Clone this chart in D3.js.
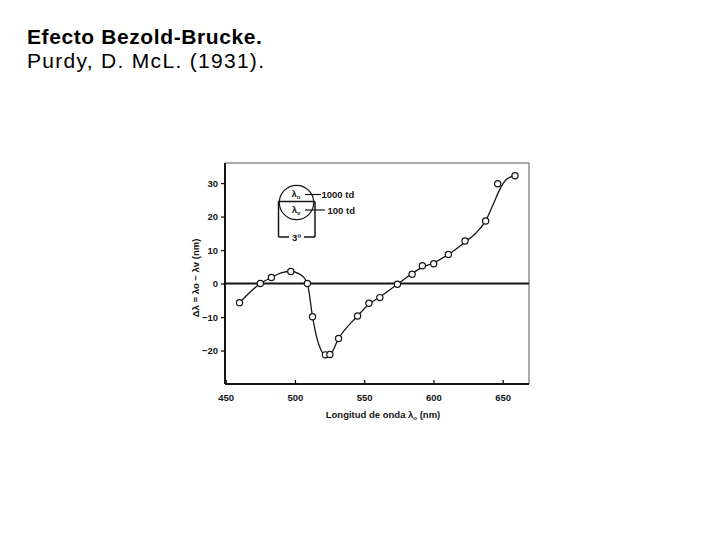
<!DOCTYPE html>
<html>
<head>
<meta charset="utf-8">
<script src="https://cdn.jsdelivr.net/npm/d3@7"></script>
<style>
  html, body { margin: 0; padding: 0; background: #fff; }
  svg { display: block; }
  text { font-family: "Liberation Sans", Arial, sans-serif; }
</style>
</head>
<body>
<svg id="chart" width="720" height="540"></svg>
<script>
// ---- data ----
const titleLines = ["Efecto Bezold-Brucke.", "Purdy, D. McL. (1931)."];
const xTicks = [450, 500, 550, 600, 650];
const yTicks = [-20, -10, 0, 10, 20, 30];
const lambda = [460, 475, 483, 497, 509, 512.7, 522, 525.2, 531.5, 545.2, 553.4, 561.3, 574, 584.6, 592, 600.2, 610.8, 622.8, 637.7, 646.4, 658.9];
const delta  = [-5.7, 0, 1.8, 3.6, 0, -9.9, -21.3, -21.2, -16.4, -9.7, -5.9, -4.2, -0.2, 2.8, 5.3, 5.9, 8.7, 12.7, 18.7, 29.8, 32.2];
// smooth curve traced through the measurements
const curveLambda = [460, 475, 483, 490, 497, 503, 507, 509.5, 512.7, 516, 519, 522, 525.2, 531.5, 545.2, 553.4, 561.3, 574, 584.6, 592, 600.2, 610.8, 622.8, 630, 637.7, 643, 648, 653, 658.9];
const curveDelta  = [-5.7, 0, 1.8, 3.2, 3.6, 2.9, 1.5, -1, -9.9, -16.5, -20, -21.3, -21.2, -16.4, -9.7, -6.2, -4, -0.2, 3.0, 4.9, 6.2, 8.7, 12.4, 14.8, 18.7, 23.5, 28.2, 31.2, 32.2];

const svg = d3.select("#chart");
const L = 225, R = 529, T = 163, B = 384;

const x = d3.scaleLinear().domain([450, 669]).range([225.7, 529]);
const y = d3.scaleLinear().domain([-30, 36]).range([B, T]);

// titles
svg.append("text").attr("x", 27).attr("y", 44)
  .attr("font-size", 21).attr("font-weight", "bold").attr("letter-spacing", 0.6).attr("fill", "#000").text(titleLines[0]);
svg.append("text").attr("x", 27).attr("y", 68)
  .attr("font-size", 21).attr("letter-spacing", 1.3).attr("fill", "#000").text(titleLines[1]);

const ink = "#151515";

// frame top/right
svg.append("line").attr("x1", L).attr("x2", R).attr("y1", T).attr("y2", T).attr("stroke", "#555").attr("stroke-width", 1);
svg.append("line").attr("x1", R).attr("x2", R).attr("y1", T).attr("y2", B).attr("stroke", "#555").attr("stroke-width", 1);

// axes
const xAxis = d3.axisBottom(x).tickValues(xTicks).tickSizeInner(-4).tickSizeOuter(0).tickPadding(10);
const gx = svg.append("g").attr("transform", `translate(0,${B})`).call(xAxis);
gx.select(".domain").attr("d", `M${L},0H${R}`).attr("stroke", ink).attr("stroke-width", 2);
gx.selectAll(".tick line").attr("stroke", ink).attr("stroke-width", 1.3);
gx.selectAll(".tick text").attr("font-size", 9.5).attr("font-weight", "bold").attr("fill", ink);

const yAxis = d3.axisLeft(y).tickValues(yTicks).tickSizeInner(4).tickSizeOuter(0).tickPadding(3)
  .tickFormat(d => d < 0 ? "\u2212" + Math.abs(d) : String(d));
const gy = svg.append("g").attr("transform", `translate(${L},0)`).call(yAxis);
gy.select(".domain").attr("d", `M0,${T}V${B}`).attr("stroke", ink).attr("stroke-width", 2);
gy.selectAll(".tick line").attr("stroke", ink).attr("stroke-width", 1.3);
gy.selectAll(".tick text").attr("font-size", 9.5).attr("font-weight", "bold").attr("fill", ink);

// zero line
svg.append("line").attr("x1", L).attr("x2", R).attr("y1", y(0)).attr("y2", y(0))
  .attr("stroke", ink).attr("stroke-width", 2);

// curve
const line = d3.line().x(d => x(d[0])).y(d => y(d[1])).curve(d3.curveMonotoneX);
svg.append("path").datum(curveLambda.map((v, i) => [v, curveDelta[i]]))
  .attr("d", line).attr("fill", "none").attr("stroke", ink).attr("stroke-width", 1.3);

// points
svg.append("g").selectAll("circle").data(lambda.map((v, i) => [v, delta[i]])).join("circle")
  .attr("cx", d => x(d[0])).attr("cy", d => y(d[1])).attr("r", 3.1)
  .attr("fill", "#fff").attr("stroke", ink).attr("stroke-width", 1.2);

// axis titles
const xl = svg.append("text").attr("x", 383).attr("y", 418).attr("text-anchor", "middle")
  .attr("font-size", 9.5).attr("font-weight", "bold").attr("fill", ink);
xl.append("tspan").text("Longitud de onda \u03bb");
xl.append("tspan").attr("font-size", 6).attr("dy", 2).text("o");
xl.append("tspan").attr("dy", -2).text(" (nm)");

svg.append("text").attr("transform", "translate(199,278) rotate(-90)").attr("text-anchor", "middle")
  .attr("font-size", 9.5).attr("font-weight", "bold").attr("fill", ink)
  .text("\u0394\u03bb = \u03bbo \u2212 \u03bbv (nm)");

// inset diagram
const ins = svg.append("g").attr("stroke", ink).attr("fill", "none").attr("stroke-width", 1.2);
ins.append("circle").attr("cx", 296.5).attr("cy", 202.5).attr("r", 17.2);
ins.append("line").attr("x1", 278).attr("x2", 315).attr("y1", 201.5).attr("y2", 201.5).attr("stroke-width", 1.6);
ins.append("line").attr("x1", 278.5).attr("x2", 278.5).attr("y1", 201.5).attr("y2", 237).attr("stroke-width", 1.5);
ins.append("line").attr("x1", 315).attr("x2", 315).attr("y1", 201.5).attr("y2", 237).attr("stroke-width", 1.5);
ins.append("line").attr("x1", 278.5).attr("x2", 289).attr("y1", 237).attr("y2", 237).attr("stroke-width", 1.5);
ins.append("line").attr("x1", 304).attr("x2", 315).attr("y1", 237).attr("y2", 237).attr("stroke-width", 1.5);
ins.append("line").attr("x1", 305).attr("x2", 321).attr("y1", 194.5).attr("y2", 194.5);
ins.append("line").attr("x1", 305).attr("x2", 325).attr("y1", 210).attr("y2", 210);

const lt = (tx, ty, sub) => {
  const t = svg.append("text").attr("x", tx).attr("y", ty).attr("text-anchor", "middle")
    .attr("font-size", 9.5).attr("font-weight", "bold").attr("fill", ink);
  t.append("tspan").text("\u03bb");
  t.append("tspan").attr("font-size", 6).attr("dy", 2).text(sub);
};
lt(296, 197, "o");
lt(296, 212.5, "v");
svg.append("text").attr("x", 321.5).attr("y", 198).attr("font-size", 9.5).attr("font-weight", "bold").attr("fill", ink).text("1000 td");
svg.append("text").attr("x", 327.5).attr("y", 213.5).attr("font-size", 9.5).attr("font-weight", "bold").attr("fill", ink).text("100 td");
svg.append("text").attr("x", 296.5).attr("y", 240.5).attr("text-anchor", "middle").attr("font-size", 9.5).attr("font-weight", "bold").attr("fill", ink).text("3\u00ba");
</script>
</body>
</html>
